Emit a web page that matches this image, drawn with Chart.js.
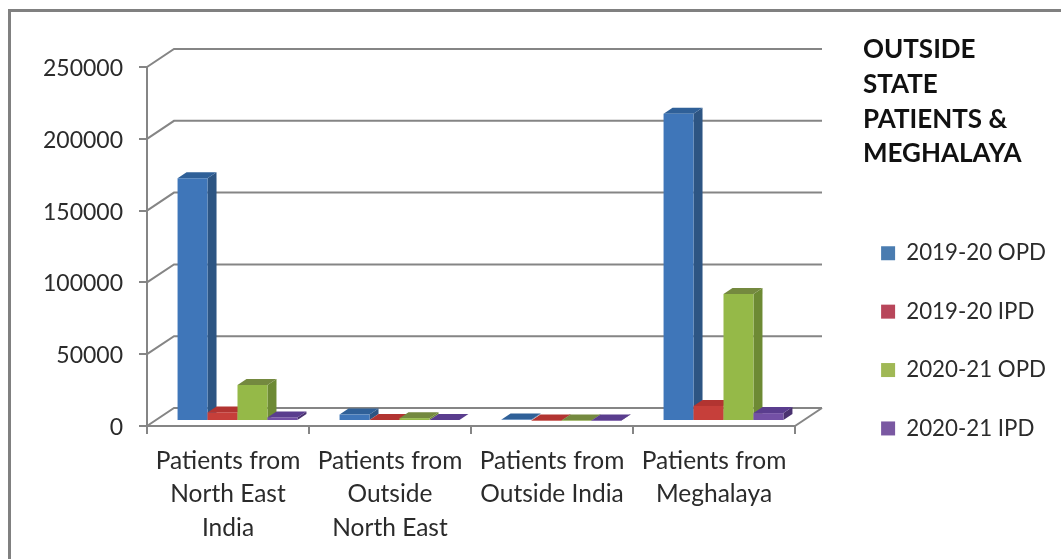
<!DOCTYPE html>
<html>
<head>
<meta charset="utf-8">
<title>Outside state patients</title>
<script src="https://cdn.jsdelivr.net/npm/chart.js@4"></script>
<style>
html, body { margin: 0; padding: 0; background: #fff; }
#wrap { width: 1061px; height: 559px; }
</style>
</head>
<body>
<div id="wrap"><canvas id="chart" width="1061" height="559"></canvas></div>
<script>
const categories = [
    ['Patients from', 'North East', 'India'],
    ['Patients from', 'Outside', 'North East'],
    ['Patients from', 'Outside India'],
    ['Patients from', 'Meghalaya']
];
const opd1920 = [169000, 4500, 1000, 214000];
const ipd1920 = [6000, 700, 400, 10500];
const opd2021 = [25000, 2000, 400, 88500];
const ipd2021 = [2500, 700, 300, 5500];
const seriesNames = ['2019-20 OPD', '2019-20 IPD', '2020-21 OPD', '2020-21 IPD'];
const titleLines = ['OUTSIDE', 'STATE', 'PATIENTS &', 'MEGHALAYA'];

const frontColors = ['#3f76b9', '#c63f3a', '#95b948', '#7350a5'];
const sideColors = ['#2d5583', '#8c2c2a', '#6d8a34', '#4a3270'];
const topColors = ['#2f6098', '#b23431', '#74893f', '#5a3d8e'];
const legendColors = ['#4a7cb0', '#b8465a', '#a0b855', '#7a58a2'];

const textColor = '#2b2b2b';
const axisColor = '#858585';
const fontFamily = 'Lato, "Open Sans", sans-serif';

// depth of the fake 3D box
const wallX = 27, wallY = -18;
const barShiftX = 9.5, barShiftY = -5;
const depthX = 9, depthY = -6;

const box3d = {
    id: 'box3d',
    beforeDatasetsDraw(chart) {
        const ctx = chart.ctx;
        const y = chart.scales.y;
        const x = chart.scales.x;
        const area = chart.chartArea;

        ctx.save();
        // outer frame
        ctx.strokeStyle = '#808080';
        ctx.lineWidth = 3;
        ctx.beginPath();
        ctx.moveTo(9.5, 559);
        ctx.lineTo(9.5, 10.5);
        ctx.lineTo(1061, 10.5);
        ctx.stroke();

        // wall lines, one per y tick
        ctx.strokeStyle = axisColor;
        ctx.lineWidth = 2;
        y.ticks.forEach((tick, i) => {
            const py = y.getPixelForTick(i);
            ctx.beginPath();
            ctx.moveTo(area.left, py);
            ctx.lineTo(area.left + wallX, py + wallY);
            ctx.lineTo(area.right + wallX, py + wallY);
            ctx.stroke();
        });
        // floor edge on the right
        ctx.beginPath();
        ctx.moveTo(x.right, y.bottom);
        ctx.lineTo(x.right + wallX, y.bottom + wallY);
        ctx.stroke();
        ctx.restore();

        // boxes, first series first so the later ones sit over its side
        chart.data.datasets.forEach((ds, d) => {
            chart.getDatasetMeta(d).data.forEach(bar => {
                const p = bar.getProps(['x', 'y', 'base', 'width'], true);
                const l = p.x - p.width / 2 + barShiftX;
                const r = p.x + p.width / 2 + barShiftX;
                const t = p.y + barShiftY;
                const b = p.base + barShiftY;
                ctx.save();
                ctx.fillStyle = sideColors[d];
                ctx.beginPath();
                ctx.moveTo(r, t);
                ctx.lineTo(r + depthX, t + depthY);
                ctx.lineTo(r + depthX, b + depthY);
                ctx.lineTo(r, b);
                ctx.closePath();
                ctx.fill();
                ctx.fillStyle = topColors[d];
                ctx.beginPath();
                ctx.moveTo(l, t);
                ctx.lineTo(l + depthX, t + depthY);
                ctx.lineTo(r + depthX, t + depthY);
                ctx.lineTo(r, t);
                ctx.closePath();
                ctx.fill();
                ctx.translate(barShiftX, barShiftY);
                bar.draw(ctx);
                ctx.restore();
            });
        });
    },
    // already drawn above
    beforeDatasetDraw() {
        return false;
    },
    afterLayout(chart) {
        // legend sits in the free space right of the plot
        const legend = chart.legend;
        const h = legend.bottom - legend.top;
        const w = legend.right - legend.left;
        legend.left = 845;
        legend.right = 845 + w;
        legend.top = 206;
        legend.bottom = 206 + h;
    },
    afterDraw(chart) {
        const ctx = chart.ctx;
        ctx.save();
        ctx.fillStyle = '#111';
        ctx.font = 'bold 26px ' + fontFamily;
        ctx.textBaseline = 'middle';
        titleLines.forEach((line, i) => {
            ctx.fillText(line, 863, 50 + i * 34.7);
        });
        ctx.restore();
    }
};

new Chart(document.getElementById('chart'), {
    type: 'bar',
    data: {
        labels: categories,
        datasets: [
            { label: seriesNames[0], data: opd1920, backgroundColor: frontColors[0] },
            { label: seriesNames[1], data: ipd1920, backgroundColor: frontColors[1] },
            { label: seriesNames[2], data: opd2021, backgroundColor: frontColors[2] },
            { label: seriesNames[3], data: ipd2021, backgroundColor: frontColors[3] }
        ]
    },
    options: {
        responsive: false,
        animation: false,
        layout: { padding: { top: 67, right: 266, bottom: 0, left: 0 } },
        datasets: { bar: { barPercentage: 1, categoryPercentage: 0.74 } },
        plugins: {
            title: { display: false },
            tooltip: { enabled: false },
            legend: {
                position: 'chartArea',
                align: 'start',
                labels: {
                    boxWidth: 14,
                    boxHeight: 14,
                    padding: 36.1,
                    color: textColor,
                    font: { family: fontFamily, size: 22.3 },
                    generateLabels(chart) {
                        const items = Chart.defaults.plugins.legend.labels.generateLabels(chart);
                        items.forEach((item, i) => { item.fillStyle = legendColors[i]; });
                        return items;
                    }
                }
            }
        },
        scales: {
            x: {
                afterFit(scale) { scale.height = 133; },
                grid: { drawOnChartArea: false, tickLength: 8, color: axisColor, lineWidth: 2 },
                border: { color: axisColor, width: 2 },
                ticks: {
                    color: textColor,
                    padding: 10,
                    maxRotation: 0,
                    autoSkip: false,
                    font: { family: fontFamily, size: 24.5, lineHeight: 1.37 }
                }
            },
            y: {
                min: 0,
                max: 250000,
                afterFit(scale) { scale.width = 147; },
                grid: { drawOnChartArea: false, tickLength: 8, color: axisColor, lineWidth: 2 },
                border: { color: axisColor, width: 2 },
                ticks: {
                    stepSize: 50000,
                    color: textColor,
                    padding: 16,
                    labelOffset: 1.5,
                    callback: value => String(value),
                    font: { family: fontFamily, size: 23 }
                }
            }
        }
    },
    plugins: [box3d]
});
</script>
</body>
</html>
